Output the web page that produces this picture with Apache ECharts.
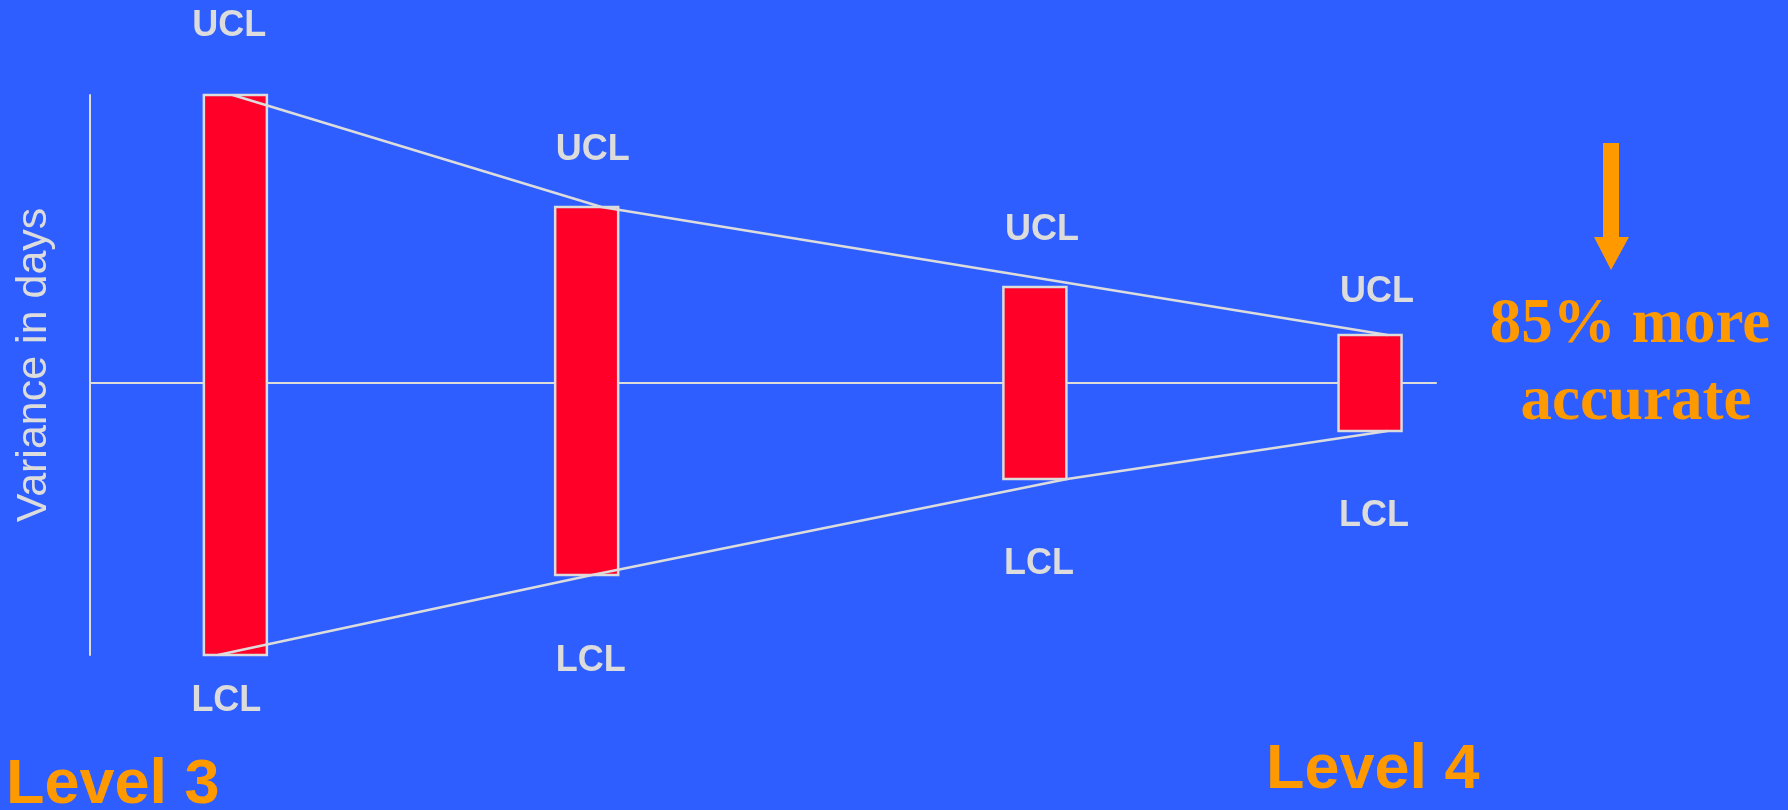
<!DOCTYPE html>
<html>
<head>
<meta charset="utf-8">
<title>Variance in days</title>
<style>
  html, body { margin: 0; padding: 0; background: #2E5EFF; }
  #chart { width: 1788px; height: 810px; }
</style>
<script src="https://cdn.jsdelivr.net/npm/echarts@6/dist/echarts.min.js"></script>
</head>
<body>
<div id="chart"></div>
<script>
// Stage positions along the horizontal axis (0–100 scale)
const stagePos = [10.8, 36.9, 70.2, 95.1];
// Upper / lower control limits (days) for each stage
const uclValues = [36, 22, 12, 6];
const lclValues = [-34, -24, -12, -6];
// Funnel outline running along the control limits
const upperEdgeX = [10.6, 38.0, 96.4];
const upperEdgeY = [36, 22, 6];
const lowerEdgeX = [9.5, 37.3, 72.6, 96.4];
const lowerEdgeY = [-34, -24, -12, -6];
// Text
const limitNames = ['UCL', 'LCL'];
const axisTitle = 'Variance in days';
const startLevel = 'Level 3';
const endLevel = 'Level 4';
const gainLines = ['85% more', 'accurate'];

// Styling
const BG = '#2E5EFF';
const RED = '#FF0029';
const GREY = '#DCDCDC';
const ORANGE = '#FF9900';
const SANS = '"Liberation Sans", Arial, sans-serif';
const SERIF = '"Liberation Serif", "Times New Roman", serif';
const BAR_W = 63;
// label placement relative to bar ends (px)
const uclGap = [69, 57, 57, 43];
const lclGap = [46, 86, 85, 85];
const uclDx = [-6, 6, 7, 7];
const lclDx = [-9, 4, 4, 4];

const barData = stagePos.map((x, i) => [x, uclValues[i], lclValues[i]]);
const upperEdge = upperEdgeX.map((x, i) => [x, upperEdgeY[i]]);
const lowerEdge = lowerEdgeX.map((x, i) => [x, lowerEdgeY[i]]);

function renderLimitBar(params, api) {
  const i = params.dataIndex;
  const top = api.coord([api.value(0), api.value(1)]);
  const bot = api.coord([api.value(0), api.value(2)]);
  const labelFont = 'bold 36px ' + SANS;
  return {
    type: 'group',
    children: [
      {
        type: 'rect',
        shape: { x: top[0] - BAR_W / 2, y: top[1], width: BAR_W, height: bot[1] - top[1] },
        style: { fill: RED, stroke: GREY, lineWidth: 2.5 }
      },
      {
        type: 'text',
        x: top[0] + uclDx[i], y: top[1] - uclGap[i],
        style: { text: limitNames[0], fill: GREY, font: labelFont, align: 'center', verticalAlign: 'middle' }
      },
      {
        type: 'text',
        x: bot[0] + lclDx[i], y: bot[1] + lclGap[i],
        style: { text: limitNames[1], fill: GREY, font: labelFont, align: 'center', verticalAlign: 'middle' }
      }
    ]
  };
}

const chart = echarts.init(document.getElementById('chart'), null, { renderer: 'canvas' });

const edgeLine = (data) => ({
  type: 'line',
  data: data,
  symbol: 'none',
  clip: false,
  silent: true,
  z: 5,
  lineStyle: { color: GREY, width: 2.5 }
});

chart.setOption({
  backgroundColor: BG,
  animation: false,
  grid: { left: 90, top: 95, width: 1346, height: 560 },
  xAxis: {
    type: 'value', min: 0, max: 100,
    axisLine: { show: true, onZero: true, lineStyle: { color: GREY, width: 2 } },
    axisTick: { show: false },
    axisLabel: { show: false },
    splitLine: { show: false }
  },
  yAxis: {
    type: 'value', min: -34, max: 36,
    axisLine: { show: true, lineStyle: { color: GREY, width: 2 } },
    axisTick: { show: false },
    axisLabel: { show: false },
    splitLine: { show: false }
  },
  series: [
    {
      type: 'custom',
      renderItem: renderLimitBar,
      data: barData,
      encode: { x: 0, y: [1, 2] },
      clip: false,
      silent: true,
      z: 2
    },
    edgeLine(upperEdge),
    edgeLine(lowerEdge)
  ],
  graphic: [
    {
      type: 'text',
      x: 34, y: 365,
      rotation: Math.PI / 2,
      style: { text: axisTitle, fill: GREY, font: '43px ' + SANS, align: 'center', verticalAlign: 'middle' }
    },
    {
      type: 'text',
      x: 6, y: 786,
      style: { text: startLevel, fill: ORANGE, font: 'bold 63px ' + SANS, align: 'left', verticalAlign: 'middle' }
    },
    {
      type: 'text',
      x: 1266, y: 771,
      style: { text: endLevel, fill: ORANGE, font: 'bold 63px ' + SANS, align: 'left', verticalAlign: 'middle' }
    },
    {
      type: 'polygon',
      shape: {
        points: [[1603, 143], [1619, 143], [1619, 237], [1629, 237], [1611, 270], [1594, 237], [1603, 237]]
      },
      style: { fill: ORANGE }
    },
    {
      type: 'text',
      x: 1630, y: 326,
      style: { text: gainLines[0], fill: ORANGE, font: 'bold 63px ' + SERIF, align: 'center', verticalAlign: 'middle' }
    },
    {
      type: 'text',
      x: 1636, y: 403,
      style: { text: gainLines[1], fill: ORANGE, font: 'bold 63px ' + SERIF, align: 'center', verticalAlign: 'middle' }
    }
  ]
});
</script>
</body>
</html>
